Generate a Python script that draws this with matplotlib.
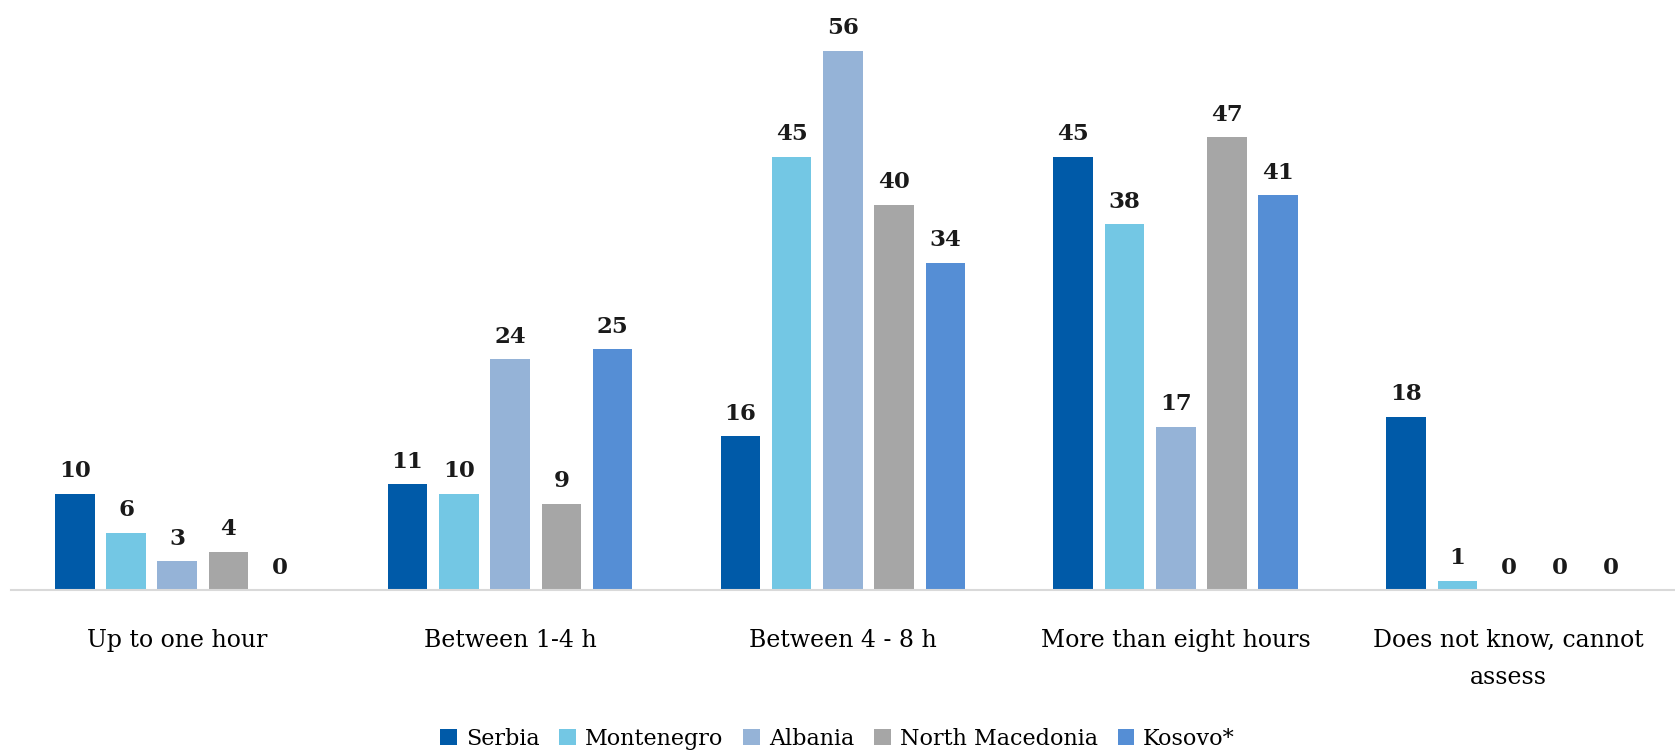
import numpy as np
import matplotlib
matplotlib.use("Agg")
import matplotlib.pyplot as plt

# Données
categories = ["Up to one hour", "Between 1-4 h", "Between 4 - 8 h",
              "More than eight hours", "Does not know, cannot\nassess"]
serbia = [10, 11, 16, 45, 18]
montenegro = [6, 10, 45, 38, 1]
albania = [3, 24, 56, 17, 0]
north_macedonia = [4, 9, 40, 47, 0]
kosovo = [0, 25, 34, 41, 0]

series = [("Serbia", serbia, "#005AA8"),
          ("Montenegro", montenegro, "#73C7E4"),
          ("Albania", albania, "#95B3D7"),
          ("North Macedonia", north_macedonia, "#A6A6A6"),
          ("Kosovo*", kosovo, "#558ED5")]

plt.rcParams['font.family'] = ['DejaVu Serif']

fig = plt.figure(figsize=(16.75, 7.55), dpi=100)
ax = fig.add_axes([0.0065, 0.218, 0.9935, 0.766])

x = np.arange(len(categories))
width = 0.119
step = 0.154
for i, (name, vals, col) in enumerate(series):
    pos = x + (i - 2) * step
    ax.bar(pos, vals, width, color=col, label=name)
    for p, v in zip(pos, vals):
        ax.text(p, v + 1.2, str(v), ha='center', va='bottom',
                fontsize=16.5, fontweight='bold', color='#1a1a1a')

ax.set_xlim(-0.5, len(categories) - 0.5)
ax.set_ylim(0, 60)
ax.set_yticks([])
ax.set_xticks(x)
ax.set_xticklabels(categories, fontsize=17, linespacing=1.75)
ax.tick_params(axis='x', length=0, pad=28)
for s in ['top', 'right', 'left']:
    ax.spines[s].set_visible(False)
ax.spines['bottom'].set_color('#D9D9D9')
ax.spines['bottom'].set_linewidth(1.5)

fig.legend(loc='lower center', bbox_to_anchor=(0.5, -0.02), ncol=5,
           frameon=False, fontsize=16, handlelength=0.75, handleheight=0.75,
           handletextpad=0.4, columnspacing=0.9)

fig.savefig("out.png", dpi=100)
